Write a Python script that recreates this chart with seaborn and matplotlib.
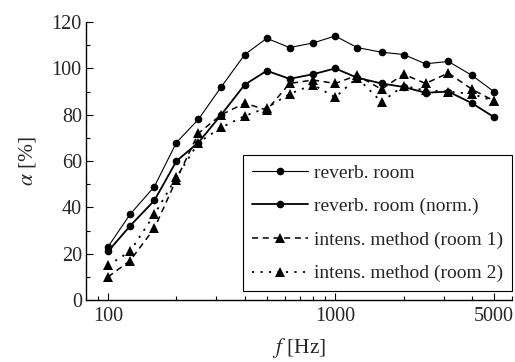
import seaborn as sns
import numpy as np
import matplotlib.pyplot as plt
from matplotlib.ticker import FixedLocator, NullFormatter

# 1/3 octave band centre frequencies
freqs = [100, 125, 160, 200, 250, 315, 400, 500, 630, 800,
         1000, 1250, 1600, 2000, 2500, 3150, 4000, 5000]

# absorption in %
reverb = [23, 37, 49, 68, 78, 92, 106, 113, 109, 111,
          114, 109, 107, 106, 102, 103, 97, 90]
reverb_norm = [21, 32, 43, 60, 68, 80, 93, 99, 95.5, 97.5,
               100, 96, 93.5, 92, 89.5, 90, 85, 79]
intens_1 = [10, 17, 31, 52, 72, 80, 85, 82, 93.5, 95,
            93.5, 97, 91, 97.5, 93.5, 98, 91, 86]
intens_2 = [15, 21, 37, 53, 68, 74.5, 79.5, 83, 89, 93,
            87.5, 96, 85.5, 92.5, 90.5, 90, 89, 86]

labels = ["reverb. room", "reverb. room (norm.)",
          "intens. method (room 1)", "intens. method (room 2)"]

sns.set_style("ticks")
plt.rcParams['font.family'] = ['Liberation Serif', 'DejaVu Serif']
plt.rcParams['mathtext.fontset'] = 'stix'

fig = plt.figure(figsize=(5.15, 3.62), dpi=100)
ax = fig.add_axes([0.167, 0.171, 0.827, 0.768])

sns.lineplot(x=freqs, y=reverb, ax=ax, color='k', lw=0.8, marker='o',
             markersize=5.5, markeredgewidth=0, label=labels[0])
sns.lineplot(x=freqs, y=reverb_norm, ax=ax, color='k', lw=1.3, marker='o',
             markersize=5.5, markeredgewidth=0, label=labels[1])
sns.lineplot(x=freqs, y=intens_1, ax=ax, color='k', lw=1.1, marker='^',
             markersize=6.5, markeredgewidth=0, dashes=(4, 3), label=labels[2])
sns.lineplot(x=freqs, y=intens_2, ax=ax, color='k', lw=1.3, marker='^',
             markersize=6.5, markeredgewidth=0, dashes=(1.2, 3.5), label=labels[3])

ax.set_xscale('log')
ax.set_xlim(80, 6000)
ax.set_ylim(0, 120)
ax.xaxis.set_major_locator(FixedLocator([100, 1000, 5000]))
ax.set_xticklabels(['100', '1000', '5000'])
ax.xaxis.set_minor_locator(FixedLocator([90, 200, 300, 400, 500, 600, 700, 800, 900,
                                         2000, 3000, 4000, 6000]))
ax.xaxis.set_minor_formatter(NullFormatter())
ax.set_yticks(np.arange(0, 121, 20))
ax.yaxis.set_minor_locator(FixedLocator(np.arange(10, 120, 20)))

ax.tick_params(which='both', direction='in', labelsize=14.5, width=0.8, color='k')
ax.tick_params(which='major', length=5)
ax.tick_params(which='minor', length=3)
ax.tick_params(axis='x', pad=5)
ax.tick_params(axis='y', pad=3)
sns.despine(ax=ax)
for s in ['left', 'bottom']:
    ax.spines[s].set_linewidth(1.0)
    ax.spines[s].set_color('k')

ax.set_xlabel(r'$f$ [Hz]', fontsize=15.5, labelpad=7)
ax.set_ylabel(r'$\alpha$ [%]', fontsize=15.5, labelpad=10)

leg = ax.legend(loc='lower right', bbox_to_anchor=(1.0, 0.032), fontsize=14,
                frameon=True, fancybox=False, edgecolor='k', framealpha=1,
                handlelength=2.9, handletextpad=0.3, labelspacing=0.82,
                borderpad=0.45, borderaxespad=0)
leg.get_frame().set_linewidth(0.8)

fig.savefig('out.png', dpi=100)
